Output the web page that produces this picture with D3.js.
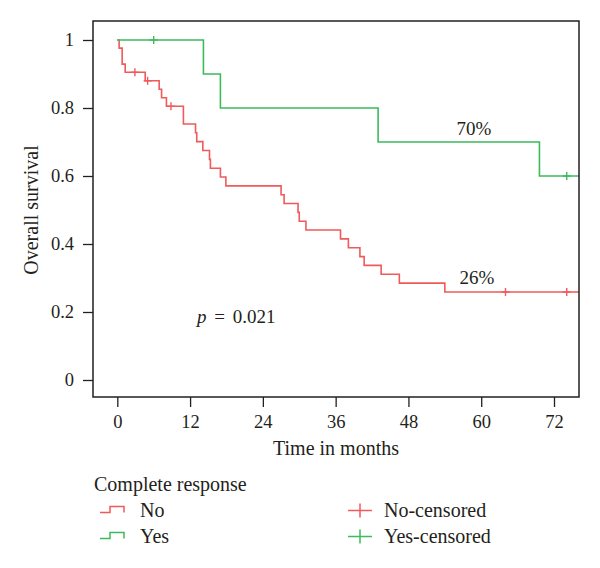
<!DOCTYPE html>
<html>
<head>
<meta charset="utf-8">
<script src="https://cdn.jsdelivr.net/npm/d3@7"></script>
<style>
  html, body { margin: 0; padding: 0; background: #fff; }
  svg { display: block; }
  text { font-family: "Liberation Serif", "Times New Roman", serif; fill: #231f20; }
</style>
</head>
<body>
<svg id="chart" width="600" height="568"></svg>
<script>
// ---- data ----
const xTicks = [0, 12, 24, 36, 48, 60, 72];
const yTicks = [0, 0.2, 0.4, 0.6, 0.8, 1];
const yTickLabels = ["0", "0.2", "0.4", "0.6", "0.8", "1"];

// "No" complete response: event times (months) and survival after each step
const noTimes = [0.3, 0.8, 1.3, 4.6, 6.9, 7.3, 8.1, 10.9, 12.9, 13.1, 14.1, 15.2, 15.35, 17.0, 17.9,
                 27.0, 27.5, 29.8, 30.0, 31.1, 36.8, 38.1, 40.0, 40.7, 43.5, 46.5, 54.0];
const noSurv  = [0.976, 0.929, 0.905, 0.880, 0.855, 0.830, 0.805, 0.753, 0.727, 0.701, 0.675, 0.649, 0.623, 0.597, 0.571,
                 0.545, 0.519, 0.493, 0.467, 0.441, 0.415, 0.389, 0.363, 0.337, 0.311, 0.285, 0.259];
const noCensorTimes = [2.9, 5.0, 8.85, 64.0, 74.1];
const noCensorSurv  = [0.905, 0.880, 0.805, 0.259, 0.259];
const noEnd = 80;

// "Yes" complete response
const yesTimes = [14.2, 17.0, 43.0, 69.6];
const yesSurv  = [0.9, 0.8, 0.7, 0.6];
const yesCensorTimes = [6.0, 74.1];
const yesCensorSurv  = [1.0, 0.6];
const yesEnd = 80;

const annotations = [
  { label: "70%", t: 58.8, s: 0.71 },
  { label: "26%", t: 59.3, s: 0.27 }
];

const colNo = "#ef5a5a";
const colYes = "#3dba5a";
const ink = "#231f20";

// ---- layout ----
const svg = d3.select("#chart");
const box = { left: 93, right: 579, top: 21, bottom: 397 };
const x = d3.scaleLinear().domain([0, 72]).range([117.3, 554]);
const y = d3.scaleLinear().domain([0, 1]).range([380, 40]);

svg.append("defs").append("clipPath").attr("id", "plotclip")
  .append("rect")
  .attr("x", box.left).attr("y", box.top)
  .attr("width", box.right - box.left).attr("height", box.bottom - box.top);

// curves
function stepPoints(times, surv, end) {
  const pts = [[0, 1]];
  times.forEach((t, i) => pts.push([t, surv[i]]));
  pts.push([end, surv[surv.length - 1]]);
  return pts;
}
const line = d3.line().x(d => x(d[0])).y(d => y(d[1])).curve(d3.curveStepAfter);

const plot = svg.append("g").attr("clip-path", "url(#plotclip)");

plot.append("path")
  .datum(stepPoints(noTimes, noSurv, noEnd))
  .attr("d", line).attr("fill", "none")
  .attr("stroke", colNo).attr("stroke-width", 1.6);

plot.append("path")
  .datum(stepPoints(yesTimes, yesSurv, yesEnd))
  .attr("d", line).attr("fill", "none")
  .attr("stroke", colYes).attr("stroke-width", 1.6);

function censorMarks(times, surv, color) {
  const g = plot.append("g").attr("stroke", color).attr("stroke-width", 1.4);
  times.forEach((t, i) => {
    const cx = x(t), cy = y(surv[i]);
    g.append("line").attr("x1", cx).attr("x2", cx).attr("y1", cy - 4).attr("y2", cy + 4);
    g.append("line").attr("x1", cx - 4).attr("x2", cx + 4).attr("y1", cy).attr("y2", cy);
  });
}
censorMarks(noCensorTimes, noCensorSurv, colNo);
censorMarks(yesCensorTimes, yesCensorSurv, colYes);

// box
svg.append("rect")
  .attr("x", box.left).attr("y", box.top)
  .attr("width", box.right - box.left).attr("height", box.bottom - box.top)
  .attr("fill", "none").attr("stroke", ink).attr("stroke-width", 1.5);

// axes
const xAxis = svg.append("g")
  .attr("transform", `translate(0,${box.bottom})`)
  .call(d3.axisBottom(x).tickValues(xTicks).tickSize(10).tickPadding(8).tickFormat(d3.format("d")));
xAxis.select(".domain").remove();
xAxis.selectAll("line").attr("stroke", ink).attr("stroke-width", 1.3);
xAxis.selectAll("text").attr("font-size", 18.5).attr("fill", ink)
  .attr("font-family", "Liberation Serif, serif");

const yAxis = svg.append("g")
  .attr("transform", `translate(${box.left},0)`)
  .call(d3.axisLeft(y).tickValues(yTicks).tickSize(10).tickPadding(9)
    .tickFormat((d, i) => yTickLabels[i]));
yAxis.select(".domain").remove();
yAxis.selectAll("line").attr("stroke", ink).attr("stroke-width", 1.3);
yAxis.selectAll("text").attr("font-size", 18.5).attr("fill", ink)
  .attr("font-family", "Liberation Serif, serif");

// axis titles
svg.append("text")
  .attr("x", (box.left + box.right) / 2).attr("y", 455)
  .attr("text-anchor", "middle").attr("font-size", 20)
  .text("Time in months");

svg.append("text")
  .attr("transform", `translate(38,${y(0.5)}) rotate(-90)`)
  .attr("text-anchor", "middle").attr("font-size", 20)
  .text("Overall survival");

// annotations
annotations.forEach(a => {
  svg.append("text")
    .attr("x", x(a.t)).attr("y", y(a.s) - 4)
    .attr("text-anchor", "middle").attr("font-size", 19)
    .text(a.label);
});

const pText = svg.append("text").attr("x", 197).attr("y", 323).attr("font-size", 19);
pText.append("tspan").attr("font-style", "italic").text("p");
pText.append("tspan").attr("dx", 3).text(" = ");
pText.append("tspan").attr("dx", 3).text("0.021");

// legend
const legend = svg.append("g");
legend.append("text").attr("x", 94).attr("y", 491).attr("font-size", 20).text("Complete response");

const legendItems = [
  { label: "No", color: colNo, y: 516.5 },
  { label: "Yes", color: colYes, y: 542.5 }
];
const censorLegend = [
  { label: "No-censored", color: colNo, y: 516.5 },
  { label: "Yes-censored", color: colYes, y: 542.5 }
];
legendItems.forEach(it => {
  const by = it.y - 4, ty = it.y - 10;
  legend.append("path")
    .attr("d", `M100,${by} H110 V${ty} H124 V${by}`)
    .attr("fill", "none").attr("stroke", it.color).attr("stroke-width", 1.5);
  legend.append("text").attr("x", 140).attr("y", it.y).attr("font-size", 20).text(it.label);
});
censorLegend.forEach(it => {
  const cy = it.y - 6;
  legend.append("line").attr("x1", 348).attr("x2", 372).attr("y1", cy).attr("y2", cy)
    .attr("stroke", it.color).attr("stroke-width", 1.5);
  legend.append("line").attr("x1", 360).attr("x2", 360).attr("y1", cy - 7).attr("y2", cy + 7)
    .attr("stroke", it.color).attr("stroke-width", 1.5);
  legend.append("text").attr("x", 384).attr("y", it.y).attr("font-size", 20).text(it.label);
});
</script>
</body>
</html>
